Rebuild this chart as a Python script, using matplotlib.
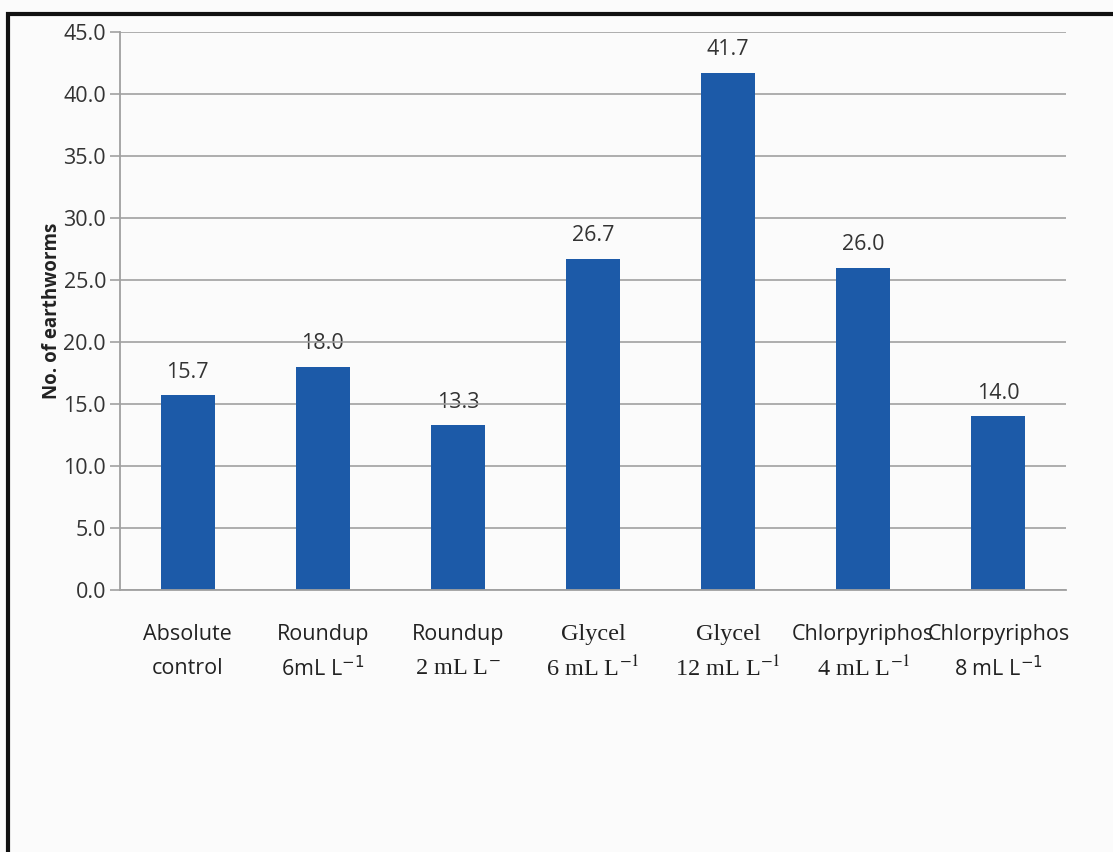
import matplotlib
matplotlib.use("Agg")
import matplotlib.pyplot as plt
from matplotlib.patches import Rectangle
from matplotlib.transforms import blended_transform_factory

# Earthworm counts per treatment
treatments = ["Absolute control", "Roundup 6mL", "Roundup 2 mL", "Glycel 6 mL",
              "Glycel 12 mL", "Chlorpyriphos 4 mL", "Chlorpyriphos 8 mL"]
earthworms = [15.7, 18.0, 13.3, 26.7, 41.7, 26.0, 14.0]
value_labels = ["15.7", "18.0", "13.3", "26.7", "41.7", "26.0", "14.0"]

# Two-line category captions: (first line, second line)
line1 = ["Absolute", "Roundup", "Roundup", "Glycel", "Glycel", "Chlorpyriphos", "Chlorpyriphos"]
line2 = ["control", "6mL L$^{-1}$", "2 mL L$^{-}$", "6 mL L$^{-1}$", "12 mL L$^{-1}$",
         "4 mL L$^{-1}$", "8 mL L$^{-1}$"]
serif1 = [False, False, False, True, True, False, False]
serif2 = [False, False, True, True, True, True, False]

yticks = [0, 5, 10, 15, 20, 25, 30, 35, 40, 45]

SANS = "Open Sans"
SERIF = "Liberation Serif"
bar_color = "#1c5aa8"
grid_color = "#a0a0a0"

fig = plt.figure(figsize=(11.13, 8.52), dpi=100, facecolor="#fbfbfb")
ax = fig.add_axes([0.1078, 0.3075, 0.85, 0.6549])
ax.set_facecolor("#fbfbfb")

x = list(range(len(earthworms)))
ax.bar(x, earthworms, width=0.4, color=bar_color, zorder=2)

ax.set_xlim(-0.5, len(earthworms) - 0.5)
ax.set_ylim(0, 45)
ax.set_yticks(yticks)
ax.set_yticklabels([f"{v:.1f}" for v in yticks], fontfamily=SANS, fontsize=15.5,
                   color="#333333")
ax.yaxis.grid(True, color=grid_color, linewidth=1.2, zorder=1)
ax.set_axisbelow(True)
ax.tick_params(axis="y", length=7, width=1.2, color=grid_color, pad=3)
ax.set_xticks([])

for side in ["top", "right"]:
    ax.spines[side].set_visible(False)
ax.spines["left"].set_color(grid_color)
ax.spines["left"].set_linewidth(1.3)
ax.spines["bottom"].set_color(grid_color)
ax.spines["bottom"].set_linewidth(1.3)

ax.set_ylabel("No. of earthworms", fontfamily=SANS, fontweight="bold", fontsize=13.5,
              color="#222222", labelpad=1)

# Value labels above bars
for xi, v, lab in zip(x, earthworms, value_labels):
    ax.annotate(lab, (xi, v), xytext=(0, 9), textcoords="offset points",
                ha="center", va="bottom", fontfamily=SANS, fontsize=15.5,
                color="#333333", zorder=0)

# Two-line category labels below the axis
trans = blended_transform_factory(ax.transData, ax.transAxes)
for xi, a, b, s1, s2 in zip(x, line1, line2, serif1, serif2):
    ax.text(xi, -0.08, a, transform=trans, ha="center", va="center",
            fontfamily=SERIF if s1 else SANS, fontsize=17.5 if s1 else 15.5,
            color="#222222")
    ax.text(xi, -0.14, b, transform=trans, ha="center", va="center",
            fontfamily=SERIF if s2 else SANS, fontsize=17.5 if s2 else 15.5,
            math_fontfamily="stix" if s2 else "dejavusans", color="#222222")

# Outer frame of the figure
fig.patches.append(Rectangle((8 / 1113, -0.1), 1.2, 1 - 14 / 852 + 0.1,
                             transform=fig.transFigure, fill=False,
                             edgecolor="#111111", linewidth=3))

fig.savefig("out.png", dpi=100, facecolor=fig.get_facecolor())
